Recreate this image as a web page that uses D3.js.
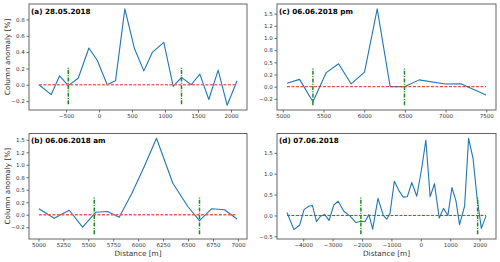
<!DOCTYPE html>
<html><head><meta charset="utf-8">
<script src="https://cdn.jsdelivr.net/npm/d3@7"></script>
<style>
body{margin:0;background:#fff}
svg{display:block}
text{font-family:"DejaVu Sans",sans-serif}
</style>
</head><body>
<svg id="chart" width="500" height="262"></svg>
<script>
// ---------- data ----------
const aTitle = "(a) 28.05.2018";
const aDist = [-912,-725,-598,-467,-316,-154,-28,124,250,391,538,679,811,982,1124,1250,1397,1528,1664,1806,1942,2093];
const aAnom = [0.0,-0.12,0.11,-0.01,0.08,0.45,0.30,0.0,0.05,0.93,0.44,0.17,0.40,0.52,-0.02,0.09,0.0,0.13,-0.18,0.18,-0.25,0.05];
const aMarkers = [-467,1250];
const aMarkerSpan = [-0.24,0.22];
const aXTicks = [-500,0,500,1000,1500,2000];
const aYTicks = [-0.2,0,0.2,0.4,0.6,0.8];
const aYLabels = ["−0.2","0.0","0.2","0.4","0.6","0.8"];

const bTitle = "(b) 06.06.2018 am";
const bDist = [5005,5158,5309,5443,5576,5693,5810,5935,6060,6184,6348,6498,6615,6738,6865,6992];
const bAnom = [0.12,-0.07,0.09,-0.25,0.05,0.066,-0.05,0.42,0.96,1.53,0.63,0.165,-0.12,0.12,0.10,-0.085];
const bMarkers = [5560,6615];
const bMarkerSpan = [-0.39,0.37];
const bXTicks = [5000,5250,5500,5750,6000,6250,6500,6750,7000];
const bYTicks = [-0.25,0,0.25,0.5,0.75,1.0,1.25,1.5];
const bYLabels = ["−0.2","0.0","0.2","0.5","0.8","1.0","1.2","1.5"];

const cTitle = "(c) 06.06.2018 pm";
const cDist = [5051,5206,5370,5534,5685,5840,6004,6160,6319,6495,6675,6994,7187,7497];
const cAnom = [0.07,0.15,-0.31,0.29,0.47,0.056,0.30,1.60,0.0,0.0,0.14,0.056,0.06,-0.17];
const cMarkers = [5370,6495];
const cMarkerSpan = [-0.38,0.40];
const cXTicks = [5000,5500,6000,6500,7000,7500];
const cYTicks = [-0.25,0,0.25,0.5,0.75,1.0,1.25,1.5];
const cYLabels = ["−0.2","0.0","0.2","0.5","0.8","1.0","1.2","1.5"];

const dTitle = "(d) 07.06.2018";
const dDist = [-4552,-4314,-4119,-3972,-3812,-3686,-3549,-3413,-3266,-3119,-2959,-2812,-2618,-2413,-2208,-2038,-1901,-1765,-1638,-1456,-1276,-1160,-1048,-901,-741,-594,-457,-307,-137,34,171,317,464,625,771,921,1058,1195,1317,1488,1625,1775,1911,2058,2218];
const dAnom = [0.07,-0.34,-0.23,0.14,0.22,0.24,-0.15,-0.02,0.02,-0.12,0.25,0.34,0.10,-0.01,-0.17,-0.14,-0.15,0.02,-0.33,0.41,0.0,-0.09,0.05,0.82,0.59,0.44,0.45,0.79,0.46,1.15,1.81,0.45,0.76,-0.06,0.17,0.0,0.67,0.35,-0.22,0.22,1.85,1.37,0.43,-0.31,-0.01];
const dMarkers = [-2038,1932];
const dMarkerSpan = [-0.45,0.46];
const dXTicks = [-4000,-3000,-2000,-1000,0,1000,2000];
const dYTicks = [-0.5,0,0.5,1.0,1.5];
const dYLabels = ["−0.5","0.0","0.5","1.0","1.5"];

const yAxisTitle = "Column anomaly [%]";
const xAxisTitle = "Distance [m]";

// ---------- drawing ----------
const svg = d3.select("#chart");
const panels = [
  {title:aTitle, xs:aDist, ys:aAnom, m:aMarkers, span:aMarkerSpan, xt:aXTicks, yt:aYTicks, yl:aYLabels,
   box:{x0:29,x1:247,y0:4,y1:110}, ylab:true, xlab:false, redW:1.6, redCol:"#e07070"},
  {title:cTitle, xs:cDist, ys:cAnom, m:cMarkers, span:cMarkerSpan, xt:cXTicks, yt:cYTicks, yl:cYLabels,
   box:{x0:277,x1:496,y0:4,y1:110}, ylab:false, xlab:false, redW:1.0, redCol:"#d62728"},
  {title:bTitle, xs:bDist, ys:bAnom, m:bMarkers, span:bMarkerSpan, xt:bXTicks, yt:bYTicks, yl:bYLabels,
   box:{x0:29,x1:247,y0:133.5,y1:239}, ylab:true, xlab:true, redW:1.4, redCol:"#e06060"},
  {title:dTitle, xs:dDist, ys:dAnom, m:dMarkers, span:dMarkerSpan, xt:dXTicks, yt:dYTicks, yl:dYLabels,
   box:{x0:277,x1:496,y0:133.5,y1:239}, ylab:false, xlab:true, redW:1.0, redCol:"#d62728"}
];

function padExtent(vals){
  const [lo,hi] = d3.extent(vals);
  const p = (hi-lo)*0.05;
  return [lo-p, hi+p];
}

panels.forEach(P => {
  const b = P.box;
  const x = d3.scaleLinear().domain(padExtent(P.xs)).range([b.x0,b.x1]);
  const y = d3.scaleLinear().domain(padExtent(P.ys.concat(P.span))).range([b.y1,b.y0]);
  const g = svg.append("g");

  const xa = g.append("g").attr("transform",`translate(0,${b.y1})`)
    .call(d3.axisBottom(x).tickValues(P.xt).tickFormat(d3.format("d")).tickSize(2.5).tickPadding(1.5));
  const ya = g.append("g").attr("transform",`translate(${b.x0},0)`)
    .call(d3.axisLeft(y).tickValues(P.yt).tickFormat((d,i)=>P.yl[i]).tickSize(2.5).tickPadding(1.8));
  [xa,ya].forEach(a=>{
    a.select(".domain").remove();
    a.selectAll(".tick line").attr("stroke","#444").attr("stroke-width",0.8);
    a.selectAll(".tick text").attr("font-size","5.5px").attr("fill","#333").attr("font-family","DejaVu Sans");
  });

  g.append("path").datum(P.xs.map((v,i)=>[v,P.ys[i]]))
    .attr("fill","none").attr("stroke","#1f77b4").attr("stroke-width",1.1)
    .attr("stroke-linejoin","round")
    .attr("d", d3.line().x(d=>x(d[0])).y(d=>y(d[1])));

  const ext = d3.extent(P.xs);
  g.append("line").attr("x1",x(ext[0])).attr("x2",x(ext[1])).attr("y1",y(0)).attr("y2",y(0))
    .attr("stroke",P.redCol).attr("stroke-width",P.redW).attr("stroke-dasharray","3,1.5");

  g.selectAll(".mk").data(P.m).join("line")
    .attr("x1",d=>x(d)).attr("x2",d=>x(d)).attr("y1",y(P.span[0])).attr("y2",y(P.span[1]))
    .attr("stroke","#1a8f1a").attr("stroke-width",1.5).attr("stroke-dasharray","4,1.3,1,1.3");

  g.append("rect").attr("x",b.x0).attr("y",b.y0).attr("width",b.x1-b.x0).attr("height",b.y1-b.y0)
    .attr("fill","none").attr("stroke","#555").attr("stroke-width",0.9);

  g.append("text").attr("x",b.x0+2).attr("y",b.y0+9.5).attr("font-size","7.2px").attr("font-weight","bold")
    .attr("fill","#000").text(P.title);

  if (P.ylab){
    g.append("text").attr("transform",`translate(${9.5},${(b.y0+b.y1)/2}) rotate(-90)`)
      .attr("text-anchor","middle").attr("font-size","7.3px").attr("fill","#333").text(yAxisTitle);
  }
  if (P.xlab){
    g.append("text").attr("x",(b.x0+b.x1)/2).attr("y",255.5)
      .attr("text-anchor","middle").attr("font-size","7.3px").attr("fill","#333").text(xAxisTitle);
  }
});
</script>
</body></html>
